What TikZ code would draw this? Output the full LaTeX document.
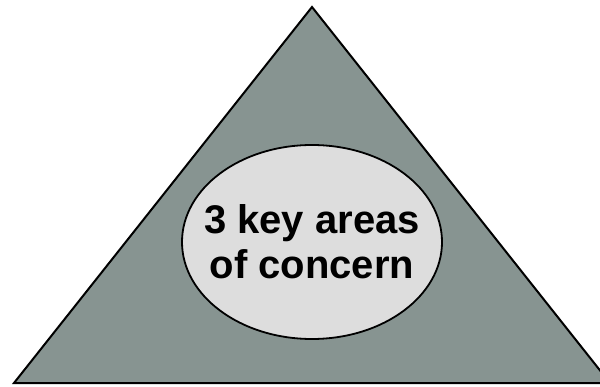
\documentclass[tikz,border=0pt]{standalone}
\usepackage{fontspec}
\setmainfont{Liberation Sans}
\usetikzlibrary{shapes.geometric}
\definecolor{trifill}{RGB}{135,148,145}
\definecolor{ellfill}{RGB}{221,221,221}
\tikzset{
  tri/.style={draw=black, line width=2pt, fill=trifill, line join=miter},
  ellbox/.style={ellipse, draw=black, line width=1.8pt, fill=ellfill, minimum width=260pt, minimum height=194pt, inner xsep=-70pt, inner ysep=-35pt, align=center, font=\fontsize{40pt}{45pt}\selectfont\bfseries}
}
\begin{document}
\begin{tikzpicture}[x=1pt,y=1pt]
\useasboundingbox (0,0) rectangle (600,386);
\clip (0,0) rectangle (600,386);
\coordinate (bl) at (14,3);
\coordinate (br) at (610,3);
\coordinate (ap) at (312,379);
\draw[tri] (bl) -- (br) -- (ap) -- cycle;
\node[ellbox] (e) at (312,144) {3 key areas\\of concern};
\end{tikzpicture}
\end{document}
